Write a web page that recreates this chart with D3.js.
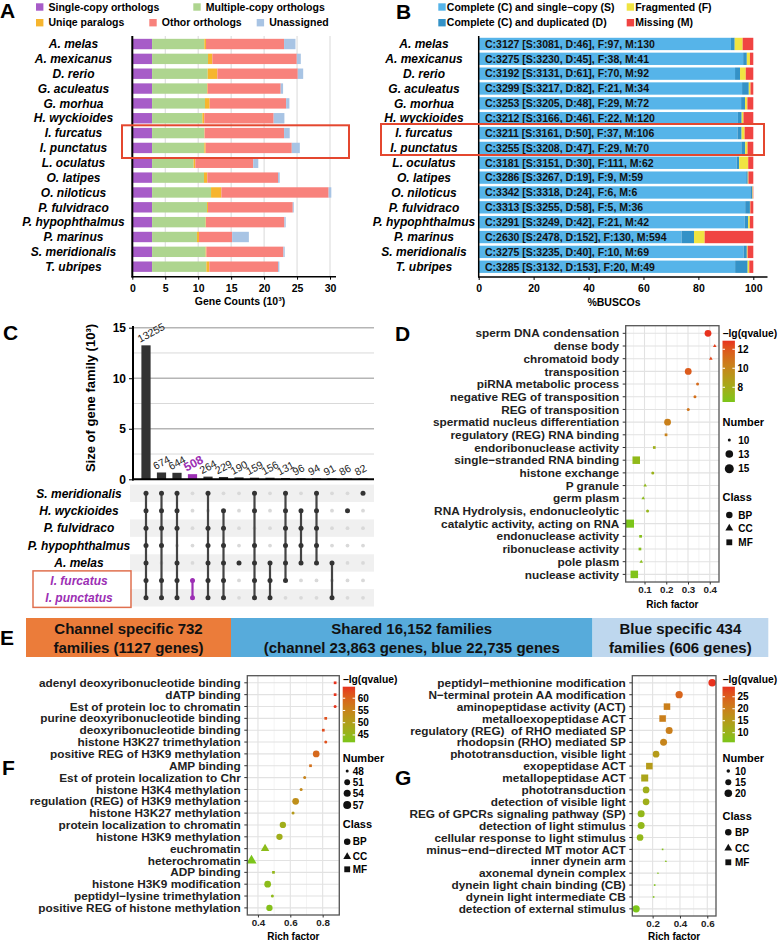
<!DOCTYPE html>
<html><head><meta charset="utf-8">
<script src="https://cdn.jsdelivr.net/npm/d3@7"></script>
<style>
body{margin:0;background:#fff;}
svg{display:block;font-family:Arial,"Liberation Sans",sans-serif;}
</style></head><body>
<svg id="fig" width="778" height="943"></svg>
<script>
// ---------- data ----------
const speciesA = ['A. melas','A. mexicanus','D. rerio','G. aculeatus','G. morhua','H. wyckioides','I. furcatus','I. punctatus','L. oculatus','O. latipes','O. niloticus','P. fulvidraco','P. hypophthalmus','P. marinus','S. meridionalis','T. ubripes'];
// gene counts (10^3)
const singleCopy     = [3.0,3.0,3.0,3.0,3.0,3.0,3.0,3.0,3.0,3.0,3.0,3.0,3.0,3.0,3.0,3.0];
const multiCopy      = [7.93,8.49,8.44,8.34,8.03,7.63,7.93,7.93,6.30,7.88,8.95,8.34,8.13,6.81,8.13,8.24];
const uniqueParalogs = [0.25,0.66,1.47,0.10,0.71,0.30,0.05,0.20,0.26,0.51,1.57,0.15,0.05,0.31,0.11,0.45];
const otherOrthologs = [11.85,12.81,12.20,11.08,11.60,10.52,12.05,13.07,8.79,10.72,16.27,12.86,11.90,5.03,11.69,10.42];
const unassigned     = [1.73,0.61,0.82,0.36,0.50,1.63,0.86,1.22,0.77,0.26,0.41,0.15,0.20,2.54,0.20,0.21];
const legendA = ['Single-copy orthologs','Multiple-copy orthologs','Uniqe paralogs','Othor orthologs','Unassigned'];

// BUSCO
const buscoS = [3081,3230,3131,3217,3205,3166,3161,3208,3151,3267,3318,3255,3249,2478,3235,3132];
const buscoD = [46,45,61,82,48,46,50,47,30,19,24,58,42,152,40,153];
const buscoF = [97,38,70,21,29,22,37,29,111,9,6,5,21,130,10,20];
const buscoM = [130,41,92,34,72,120,106,70,62,59,6,36,42,594,69,49];
const legendB = ['Complete (C) and single\u2212copy (S)','Complete (C) and duplicated (D)','Fragmented (F)','Missing (M)'];

// UpSet
const upsetSets = ['S. meridionalis','H. wyckioides','P. fulvidraco','P. hypophthalmus','A. melas','I. furcatus','I. punctatus'];
const upsetSizes = [13255,674,644,508,264,229,190,159,156,131,96,94,91,86,82];
const upsetMembers = [[0,1,2,3,4,5,6],[0,1,2,3,5,6],[0,1,2,4,5,6],[5,6],[0,2,3,4,5,6],[1,2,3,4,5,6],[4],[0,1,3,4,5,6],[4,5,6],[0,1,2,3,4,5],[1,2,3,4],[0,1,2,3,4],[4,6],[1],[0]];

// D
const termsD = ['sperm DNA condensation','dense body','chromatoid body','transposition','piRNA metabolic process','negative REG of transposition','REG of transposition','spermatid nucleus differentiation','regulatory (REG) RNA binding','endoribonuclease activity','single\u2212stranded RNA binding','histone exchange','P granule','germ plasm','RNA Hydrolysis, endonucleolytic','catalytic activity, acting on RNA','endonuclease activity','ribonuclease activity','pole plasm','nuclease activity'];
const richD = [0.392,0.423,0.405,0.301,0.344,0.332,0.301,0.206,0.199,0.145,0.062,0.138,0.103,0.094,0.114,0.033,0.082,0.079,0.085,0.053];
const qD    = [12.9,12.6,12.4,11.8,11.2,11.0,10.8,10.3,10.2,7.8,7.2,7.6,7.2,7.0,7.4,6.45,6.8,6.8,6.9,6.6];
const numD  = [12,10,10,12,10,10,10,12,10,10,14,10,10,10,10,15,10,10,10,14];
const classD = ['BP','CC','CC','BP','BP','BP','BP','BP','MF','MF','MF','BP','CC','CC','BP','MF','MF','MF','CC','MF'];

// F
const termsF = ['adenyl deoxyribonucleotide binding','dATP binding','Est of protein loc to chromatin','purine deoxyribonucleotide binding','deoxyribonucleotide binding','histone H3K27 trimethylation','positive REG of H3K9 methylation','AMP binding','Est of protein localization to Chr','histone H3K4 methylation','regulation (REG) of H3K9 methylation','histone H3K27 methylation','protein localization to chromatin','histone H3K9 methylation','euchromatin','heterochromatin','ADP binding','histone H3K9 modification','peptidyl\u2212lysine trimethylation','positive REG of histone methylation'];
const richF = [0.877,0.877,0.877,0.819,0.804,0.819,0.760,0.725,0.689,0.667,0.633,0.617,0.554,0.533,0.444,0.360,0.496,0.460,0.489,0.471];
const qF    = [64.7,64.5,64.5,62,62.5,62,59,58,55,54,53,51,47,47,44,42,45,44,44.5,43];
const numF  = [48,48,48,48,48,48,53,48,48,48,53,48,52,52,54,59,48,53,48,52];
const classF = ['MF','MF','BP','MF','MF','BP','BP','MF','BP','BP','BP','BP','BP','BP','CC','CC','MF','BP','BP','BP'];

// G
const termsG = ['peptidyl\u2212methionine modification','N\u2212terminal protein AA modification','aminopeptidase activity (ACT)','metalloexopeptidase ACT','regulatory (REG)  of RHO mediated SP','rhodopsin (RHO) mediated SP','phototransduction, visible light','exopeptidase ACT','metallopeptidase ACT','phototransduction','detection of visible light','REG of GPCRs signaling pathway (SP)','detection of light stimulus','cellular response to light stimulus','minus\u2212end\u2212directed MT motor ACT','inner dynein arm','axonemal dynein complex','dynein light chain binding (CB)','dynein light intermediate CB','detection of external stimulus'];
const richG = [0.636,0.394,0.305,0.273,0.321,0.280,0.225,0.176,0.142,0.152,0.152,0.116,0.116,0.108,0.273,0.297,0.239,0.215,0.207,0.079];
const qG    = [29.2,24,20,20,20,19,15,15,13,11,11,9,9,9,7,7,6.5,6.5,6.5,6];
const numG  = [20,19,19,19,18,18,17,19,21,17,17,18,18,17,9,9,9,9,9,19];
const classG = ['BP','BP','MF','MF','BP','BP','BP','MF','MF','BP','BP','BP','BP','BP','MF','CC','CC','MF','MF','BP'];

// E banner
const bannerLine1 = ['Channel specific 732','Shared 16,152 families','Blue specific 434'];
const bannerLine2 = ['families (1127 genes)','(channel 23,863 genes, blue 22,735 genes','families (606 genes)'];

// ---------- drawing ----------
const svg = d3.select('#fig');
const FONT = 'Arial,"Liberation Sans",sans-serif';
const colA = ['#a75cc8','#aed58f','#f6b52e','#f8827c','#a8c4e4'];
const colB = ['#56b4e9','#3492c7','#f0e442','#f04442'];
const purple = '#9c2fb4';

function panelLetter(t, x, y) {
  svg.append('text').attr('x', x).attr('y', y).attr('font-size', 21).attr('font-weight', 'bold').text(t);
}

// ===== Panel A =====
panelLetter('A', 0, 18);
const xA = d3.scaleLinear().domain([0, 30]).range([132.3, 330]);
const yA = d3.scaleBand().domain(speciesA).range([36.6, 274.1]).paddingInner(0.3).paddingOuter(0.15);
const keysA = ['s','m','u','o','n'];
const rowsA = speciesA.map((sp, i) => ({sp, s: singleCopy[i], m: multiCopy[i], u: uniqueParalogs[i], o: otherOrthologs[i], n: unassigned[i]}));
const stackA = d3.stack().keys(keysA)(rowsA);
const gA = svg.append('g');
gA.selectAll('line.grid').data([5,10,15,20,25,30]).join('line')
  .attr('x1', d => xA(d)).attr('x2', d => xA(d)).attr('y1', 36).attr('y2', 276.7)
  .attr('stroke', '#d9d9d9').attr('stroke-width', 1);
stackA.forEach((layer, k) => {
  gA.append('g').selectAll('rect').data(layer).join('rect')
    .attr('x', d => xA(d[0])).attr('width', d => xA(d[1]) - xA(d[0]))
    .attr('y', d => yA(d.data.sp)).attr('height', yA.bandwidth())
    .attr('fill', colA[k]);
});
gA.selectAll('text.sp').data(speciesA).join('text')
  .attr('x', 73.5).attr('y', d => yA(d) + yA.bandwidth() / 2).attr('dy', '0.35em')
  .attr('text-anchor', 'middle').attr('font-size', 12).attr('font-weight', 'bold').attr('font-style', 'italic')
  .text(d => d);
const axA = gA.append('g').attr('transform', 'translate(0,276.7)')
  .call(d3.axisBottom(xA).tickValues([0,5,10,15,20,25,30]).tickSize(3).tickSizeOuter(0));
axA.select('.domain').remove();
axA.selectAll('text').attr('font-size', 10.5).attr('font-weight', 'bold').attr('font-family', FONT).attr('fill', '#000').attr('dy', '0.9em');
axA.selectAll('line').attr('stroke', '#000');
gA.append('line').attr('x1', 131.5).attr('x2', 336).attr('y1', 276.7).attr('y2', 276.7).attr('stroke', '#000').attr('stroke-width', 1.5);
gA.append('line').attr('x1', 132.3).attr('x2', 132.3).attr('y1', 36).attr('y2', 277.5).attr('stroke', '#000').attr('stroke-width', 2);
gA.append('text').attr('x', 240).attr('y', 301).attr('dy', '0.35em').attr('text-anchor', 'middle')
  .attr('font-size', 10.5).attr('font-weight', 'bold').text('Gene Counts (10\u00b3)');
// legend A
const legPosA = [[36,7],[193.3,7],[36,22.7],[149.3,22.7],[256.7,22.7]];
legendA.forEach((t, i) => {
  const [lx, ly] = legPosA[i];
  gA.append('rect').attr('x', lx).attr('y', ly - 3.7).attr('width', 7.4).attr('height', 7.4).attr('fill', colA[i]);
  gA.append('text').attr('x', lx + 12.5).attr('y', ly).attr('dy', '0.35em').attr('font-size', 10.5).attr('font-weight', 'bold').text(t);
});
gA.append('rect').attr('x', 122).attr('y', 125.3).attr('width', 227).attr('height', 32.7)
  .attr('fill', 'none').attr('stroke', '#e4472f').attr('stroke-width', 2);

// ===== Panel B =====
panelLetter('B', 396, 19);
const xB = d3.scaleLinear().domain([0, 100]).range([478.7, 753.3]);
const yB = d3.scaleBand().domain(speciesA).range([36.6, 274.1]).paddingInner(0.17).paddingOuter(0.08);
const rowsB = speciesA.map((sp, i) => {
  const tot = buscoS[i] + buscoD[i] + buscoF[i] + buscoM[i];
  return {sp, i, s: buscoS[i] / tot * 100, d: buscoD[i] / tot * 100, f: buscoF[i] / tot * 100, m: buscoM[i] / tot * 100};
});
const stackB = d3.stack().keys(['s','d','f','m'])(rowsB);
const gB = svg.append('g');
stackB.forEach((layer, k) => {
  gB.append('g').selectAll('rect').data(layer).join('rect')
    .attr('x', d => xB(d[0])).attr('width', d => xB(d[1]) - xB(d[0]))
    .attr('y', d => yB(d.data.sp)).attr('height', yB.bandwidth())
    .attr('fill', colB[k]);
});
gB.selectAll('text.lab').data(rowsB).join('text')
  .attr('x', 485).attr('y', d => yB(d.sp) + yB.bandwidth() / 2).attr('dy', '0.36em')
  .attr('font-size', 10.5).attr('font-weight', 'bold').attr('fill', '#111')
  .text(d => `C:${buscoS[d.i] + buscoD[d.i]} [S:${buscoS[d.i]}, D:${buscoD[d.i]}], F:${buscoF[d.i]}, M:${buscoM[d.i]}`);
gB.selectAll('text.sp').data(speciesA).join('text')
  .attr('x', 424).attr('y', d => yB(d) + yB.bandwidth() / 2).attr('dy', '0.35em')
  .attr('text-anchor', 'middle').attr('font-size', 12).attr('font-weight', 'bold').attr('font-style', 'italic')
  .text(d => d);
const axB = gB.append('g').attr('transform', 'translate(0,277)')
  .call(d3.axisBottom(xB).tickValues([0,20,40,60,80,100]).tickSize(3).tickSizeOuter(0));
axB.select('.domain').remove();
axB.selectAll('text').attr('font-size', 10.5).attr('font-weight', 'bold').attr('font-family', FONT).attr('fill', '#000').attr('dy', '0.9em');
axB.selectAll('line').attr('stroke', '#000');
gB.append('line').attr('x1', 478).attr('x2', 767.5).attr('y1', 277).attr('y2', 277).attr('stroke', '#000').attr('stroke-width', 1.5);
gB.append('line').attr('x1', 478.7).attr('x2', 478.7).attr('y1', 36).attr('y2', 277.5).attr('stroke', '#000').attr('stroke-width', 1.5);
gB.append('text').attr('x', 614).attr('y', 302).attr('dy', '0.35em').attr('text-anchor', 'middle')
  .attr('font-size', 10.5).attr('font-weight', 'bold').text('%BUSCOs');
const legPosB = [[438.3,7],[438.3,22.7],[626.7,7],[626.7,22.7]];
const legColB = [colB[0], colB[1], colB[2], colB[3]];
legendB.forEach((t, i) => {
  const [lx, ly] = legPosB[i];
  gB.append('rect').attr('x', lx).attr('y', ly - 3.7).attr('width', 7.4).attr('height', 7.4).attr('fill', legColB[i]);
  gB.append('text').attr('x', lx + 8.5).attr('y', ly).attr('dy', '0.35em').attr('font-size', 10.5).attr('font-weight', 'bold').text(t);
});
gB.append('rect').attr('x', 381).attr('y', 124).attr('width', 383).attr('height', 31)
  .attr('fill', 'none').attr('stroke', '#e4472f').attr('stroke-width', 2);

// ===== Panel C (UpSet) =====
panelLetter('C', 3, 340);
const gC = svg.append('g');
const xC = d3.scalePoint().domain(d3.range(upsetSizes.length)).range([146, 363]);
const yC = d3.scaleLinear().domain([0, 15]).range([479.3, 327.7]);
const rowC = d3.scalePoint().domain(upsetSets).range([493.3, 597.8]);
const rowStep = rowC.step();
[2.5, 7.5, 12.5].forEach(v => gC.append('line').attr('x1', 133).attr('x2', 374).attr('y1', yC(v)).attr('y2', yC(v)).attr('stroke', '#cfcfcf').attr('stroke-width', 0.8));
[5, 10, 15].forEach(v => gC.append('line').attr('x1', 133).attr('x2', 374).attr('y1', yC(v)).attr('y2', yC(v)).attr('stroke', '#b5b5b5').attr('stroke-width', 1.4));
gC.selectAll('rect.bar').data(upsetSizes).join('rect')
  .attr('x', (d, i) => xC(i) - 4.6).attr('width', 9.2)
  .attr('y', d => yC(d / 1000)).attr('height', d => yC(0) - yC(d / 1000))
  .attr('fill', (d, i) => i === 3 ? purple : '#333');
gC.selectAll('text.cnt').data(upsetSizes).join('text')
  .attr('transform', (d, i) => `translate(${xC(i) - 6},${yC(d / 1000) - 2.5}) rotate(-28)`)
  .attr('font-size', (d, i) => i === 3 ? 12 : 10.5)
  .attr('font-weight', (d, i) => i === 3 ? 'bold' : 'normal')
  .attr('fill', (d, i) => i === 3 ? purple : '#222')
  .text(d => d);
const axC = gC.append('g').attr('transform', 'translate(133,0)')
  .call(d3.axisLeft(yC).tickValues([0,5,10,15]).tickSize(4).tickSizeOuter(0));
axC.select('.domain').remove();
axC.selectAll('text').attr('font-size', 12).attr('font-weight', 'bold').attr('font-family', FONT).attr('fill', '#000');
axC.selectAll('line').attr('stroke', '#000');
gC.append('line').attr('x1', 133).attr('x2', 133).attr('y1', 326).attr('y2', 480.5).attr('stroke', '#000').attr('stroke-width', 2);
gC.append('line').attr('x1', 132).attr('x2', 374).attr('y1', 479.3).attr('y2', 479.3).attr('stroke', '#000').attr('stroke-width', 2);
gC.append('text').attr('transform', 'translate(90,398) rotate(-90)').attr('text-anchor', 'middle').attr('dy', '0.35em')
  .attr('font-size', 13).attr('font-weight', 'bold').text('Size of gene family (10\u00b3)');
// matrix
gC.selectAll('rect.stripe').data(upsetSets.filter((d, i) => i % 2 === 0)).join('rect')
  .attr('x', 130).attr('width', 244).attr('y', d => rowC(d) - rowStep / 2).attr('height', rowStep)
  .attr('fill', '#f0f0f0');
upsetSizes.forEach((s, ci) => {
  upsetSets.forEach((sp, ri) => {
    if (!upsetMembers[ci].includes(ri))
      gC.append('circle').attr('cx', xC(ci)).attr('cy', rowC(sp)).attr('r', 1.9).attr('fill', '#d9d9d9');
  });
});
upsetMembers.forEach((m, ci) => {
  const c = ci === 3 ? purple : '#444';
  const lo = d3.min(m), hi = d3.max(m);
  if (hi > lo) gC.append('line').attr('x1', xC(ci)).attr('x2', xC(ci))
    .attr('y1', rowC(upsetSets[lo])).attr('y2', rowC(upsetSets[hi])).attr('stroke', c).attr('stroke-width', 2.2);
  m.forEach(ri => gC.append('circle').attr('cx', xC(ci)).attr('cy', rowC(upsetSets[ri])).attr('r', 2.5).attr('fill', ci === 3 ? purple : '#333'));
});
gC.selectAll('text.set').data(upsetSets).join('text')
  .attr('x', 79).attr('y', d => rowC(d)).attr('dy', '0.35em').attr('text-anchor', 'middle')
  .attr('font-size', 12).attr('font-weight', 'bold').attr('font-style', 'italic')
  .attr('fill', (d, i) => i >= 5 ? purple : '#000')
  .text(d => d);
gC.append('rect').attr('x', 33).attr('y', rowC(upsetSets[5]) - 9.5).attr('width', 98).attr('height', 36.5)
  .attr('fill', 'none').attr('stroke', '#e0704f').attr('stroke-width', 1.5);

// ===== dot plots (D, F, G) =====
function shapePath(cls, d) {
  if (cls === 'MF') return d3.symbol(d3.symbolSquare, (d * 0.9) * (d * 0.9))();
  if (cls === 'CC') return d3.symbol(d3.symbolTriangle, 0.62 * d * d)();
  return d3.symbol(d3.symbolCircle, Math.PI * d * d / 4)();
}
let gradId = 0;
function dotPanel(cfg) {
  const g = svg.append('g');
  const ext = d3.extent(cfg.rich);
  const pad = (ext[1] - ext[0]) * 0.05;
  const x = d3.scaleLinear().domain([ext[0] - pad, ext[1] + pad]).range([cfg.x0, cfg.x1]);
  const y = d3.scalePoint().domain(cfg.terms).range([cfg.y0, cfg.y1]).padding(0.6);
  const qExt = d3.extent(cfg.q);
  const color = d3.scaleLinear().domain(qExt).range(['#7cc51a', '#e8321e']).interpolate(d3.interpolateLab);
  const nExt = cfg.sizeDomain;
  const size = d3.scaleSqrt().domain([0, nExt[1] - nExt[0]]).range(cfg.sizeRange).clamp(true);
  const diam = v => size(Math.max(0, v - nExt[0]));
  // grid
  cfg.minor.forEach(v => g.append('line').attr('x1', x(v)).attr('x2', x(v)).attr('y1', cfg.y0).attr('y2', cfg.y1).attr('stroke', '#eeeeee').attr('stroke-width', 0.7));
  cfg.ticks.forEach(v => g.append('line').attr('x1', x(v)).attr('x2', x(v)).attr('y1', cfg.y0).attr('y2', cfg.y1).attr('stroke', '#e2e2e2').attr('stroke-width', 1.1));
  cfg.terms.forEach(t => g.append('line').attr('x1', cfg.x0).attr('x2', cfg.x1).attr('y1', y(t)).attr('y2', y(t)).attr('stroke', '#e2e2e2').attr('stroke-width', 1.1));
  // points
  g.selectAll('path.pt').data(cfg.terms).join('path')
    .attr('transform', (t, i) => `translate(${x(cfg.rich[i])},${y(t)})`)
    .attr('d', (t, i) => shapePath(cfg.cls[i], diam(cfg.num[i])))
    .attr('fill', (t, i) => color(cfg.q[i]));
  // frame
  g.append('rect').attr('x', cfg.x0).attr('y', cfg.y0).attr('width', cfg.x1 - cfg.x0).attr('height', cfg.y1 - cfg.y0)
    .attr('fill', 'none').attr('stroke', '#555').attr('stroke-width', 1.3);
  // y labels
  cfg.terms.forEach(t => g.append('line').attr('x1', cfg.x0 - 3).attr('x2', cfg.x0).attr('y1', y(t)).attr('y2', y(t)).attr('stroke', '#333'));
  g.selectAll('text.term').data(cfg.terms).join('text')
    .attr('x', cfg.x0 - 6.5).attr('y', t => y(t)).attr('dy', '0.35em').attr('text-anchor', 'end')
    .attr('font-size', 11.8).attr('font-weight', 'bold').attr('fill', '#222').style('white-space', 'pre')
    .text(t => t);
  // x axis
  const ax = g.append('g').attr('transform', `translate(0,${cfg.y1})`)
    .call(d3.axisBottom(x).tickValues(cfg.ticks).tickFormat(d3.format('.1f')).tickSize(2.5).tickPadding(1.5).tickSizeOuter(0));
  ax.select('.domain').remove();
  ax.selectAll('line').attr('stroke', '#333');
  ax.selectAll('text').attr('font-size', 9.8).attr('font-weight', 'bold').attr('font-family', FONT).attr('fill', '#222').attr('dy', '0.71em');
  g.append('text').attr('x', (cfg.x0 + cfg.x1) / 2).attr('y', cfg.xlabY).attr('dy', '0.35em').attr('text-anchor', 'middle')
    .attr('font-size', 10).attr('font-weight', 'bold').text('Rich factor');
  // legend: colour bar
  const L = cfg.leg;
  g.append('text').attr('x', L.x).attr('y', L.titleY).attr('dy', '0.35em').attr('font-size', 10.3).attr('font-weight', 'bold').text('\u2212lg(qvalue)');
  const id = 'grad' + (gradId++);
  const grad = svg.append('defs').append('linearGradient').attr('id', id).attr('x1', 0).attr('x2', 0).attr('y1', 1).attr('y2', 0);
  d3.range(0, 1.0001, 0.1).forEach(t => grad.append('stop').attr('offset', t).attr('stop-color', color(qExt[0] + t * (qExt[1] - qExt[0]))));
  const cb = d3.scaleLinear().domain(qExt).range([L.barY1, L.barY0]);
  g.append('rect').attr('x', L.x).attr('y', L.barY0).attr('width', 12.4).attr('height', L.barY1 - L.barY0).attr('fill', `url(#${id})`);
  L.qTicks.forEach(v => {
    g.append('line').attr('x1', L.x).attr('x2', L.x + 2.5).attr('y1', cb(v)).attr('y2', cb(v)).attr('stroke', '#fff');
    g.append('line').attr('x1', L.x + 9.9).attr('x2', L.x + 12.4).attr('y1', cb(v)).attr('y2', cb(v)).attr('stroke', '#fff');
    g.append('text').attr('x', L.x + 15).attr('y', cb(v)).attr('dy', '0.35em').attr('font-size', 10).attr('font-weight', 'bold').text(v);
  });
  // legend: number
  g.append('text').attr('x', L.x).attr('y', L.numY).attr('dy', '0.35em').attr('font-size', 11).attr('font-weight', 'bold').text('Number');
  L.numTicks.forEach((v, i) => {
    g.append('path').attr('transform', `translate(${L.symX},${L.numItemsY[i]})`).attr('d', shapePath('BP', diam(v))).attr('fill', '#111');
    g.append('text').attr('x', L.txtX).attr('y', L.numItemsY[i]).attr('dy', '0.35em').attr('font-size', 10).attr('font-weight', 'bold').text(v);
  });
  // legend: class
  g.append('text').attr('x', L.x).attr('y', L.clsY).attr('dy', '0.35em').attr('font-size', 11).attr('font-weight', 'bold').text('Class');
  ['BP','CC','MF'].forEach((c, i) => {
    g.append('path').attr('transform', `translate(${L.symX},${L.clsItemsY[i]})`).attr('d', shapePath(c, 6.5)).attr('fill', '#111');
    g.append('text').attr('x', L.txtX).attr('y', L.clsItemsY[i]).attr('dy', '0.35em').attr('font-size', 10).attr('font-weight', 'bold').text(c);
  });
}

panelLetter('D', 395, 341);
dotPanel({terms: termsD, rich: richD, q: qD, num: numD, cls: classD,
  x0: 625.7, x1: 719, y0: 325.7, y1: 582, xlabY: 604,
  ticks: [0.1,0.2,0.3,0.4], minor: [0.05,0.15,0.25,0.35],
  sizeDomain: [10, 15], sizeRange: [3, 9],
  leg: {x: 722.5, titleY: 333.3, barY0: 340.7, barY1: 402, qTicks: [8,10,12],
    numY: 421.7, numTicks: [10,13,15], numItemsY: [440,454,468.7],
    clsY: 496.7, clsItemsY: [515,528.3,542.3], symX: 729.3, txtX: 738.3}});

// ===== Panel E banner =====
panelLetter('E', 0, 645);
const bannerX = [26, 231, 592.5, 768.3];
const bannerCol = ['#eb7c3a', '#57abdb', '#bed7ee'];
bannerLine1.forEach((t, i) => {
  svg.append('rect').attr('x', bannerX[i]).attr('y', 618).attr('width', bannerX[i + 1] - bannerX[i]).attr('height', 39).attr('fill', bannerCol[i]);
  const cx = (bannerX[i] + bannerX[i + 1]) / 2;
  svg.append('text').attr('x', cx).attr('y', 629).attr('dy', '0.36em').attr('text-anchor', 'middle').attr('font-size', 15).attr('font-weight', 'bold').attr('fill', '#111').text(t);
  svg.append('text').attr('x', cx).attr('y', 647.5).attr('dy', '0.36em').attr('text-anchor', 'middle').attr('font-size', 15).attr('font-weight', 'bold').attr('fill', '#111').text(bannerLine2[i]);
});

// ===== Panel F =====
panelLetter('F', 2, 775);
dotPanel({terms: termsF, rich: richF, q: qF, num: numF, cls: classF,
  x0: 247.3, x1: 339.3, y0: 675.7, y1: 915, xlabY: 936.5,
  ticks: [0.4,0.6,0.8], minor: [0.5,0.7,0.9],
  sizeDomain: [48, 59], sizeRange: [3, 8.5],
  leg: {x: 342.7, titleY: 679, barY0: 686.7, barY1: 742.3, qTicks: [45,50,55,60],
    numY: 758.3, numTicks: [48,51,54,57], numItemsY: [771,782.3,793.3,805],
    clsY: 824.3, clsItemsY: [841.7,856.7,869.3], symX: 347.2, txtX: 352.7}});

// ===== Panel G =====
panelLetter('G', 395, 785);
dotPanel({terms: termsG, rich: richG, q: qG, num: numG, cls: classG,
  x0: 632.3, x1: 716, y0: 675.7, y1: 916, xlabY: 936.5,
  ticks: [0.2,0.4,0.6], minor: [0.1,0.3,0.5],
  sizeDomain: [9, 21], sizeRange: [1.8, 7.8],
  leg: {x: 722.5, titleY: 679, barY0: 686.7, barY1: 742.3, qTicks: [10,15,20,25],
    numY: 758.3, numTicks: [10,15,20], numItemsY: [771,782.3,793.3],
    clsY: 816, clsItemsY: [832.3,848.3,862.3], symX: 728.3, txtX: 735}});
</script></body></html>
